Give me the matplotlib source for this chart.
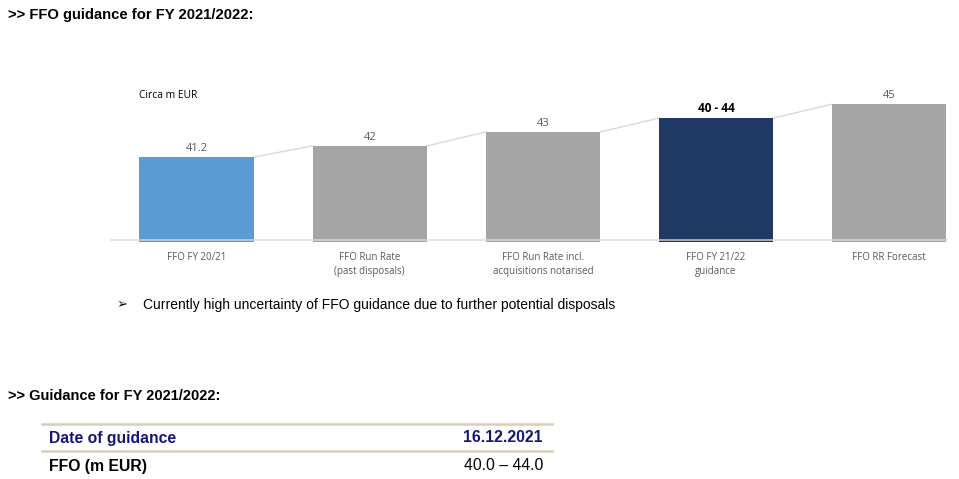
import matplotlib.pyplot as plt
from matplotlib.lines import Line2D

# Daten aus der Grafik (Circa m EUR)
kategorien = ['FFO FY 20/21', 'FFO Run Rate\n(past disposals)',
              'FFO Run Rate incl.\nacquisitions notarised',
              'FFO FY 21/22\nguidance', 'FFO RR Forecast']
werte = [41.2, 42, 43, 44, 45]
beschriftung = ['41.2', '42', '43', '40 - 44', '45']

tabelle_zeilen = ['Date of guidance', 'FFO (m EUR)']
tabelle_werte = ['16.12.2021', '40.0 \u2013 44.0']

farben = ['#5b9bd5', '#a5a5a5', '#a5a5a5', '#203864', '#a5a5a5']

W, H = 959, 479
fig = plt.figure(figsize=(W / 100, H / 100), dpi=100)


def px(x, y):
    # Pixel (von oben links) -> Figure-Koordinaten
    return x / W, 1 - y / H


# Achse fuer das Balkendiagramm
ax_l, ax_r, ax_top, ax_bot = 110, 948, 61, 242
ax = fig.add_axes([ax_l / W, 1 - ax_bot / H, (ax_r - ax_l) / W, (ax_bot - ax_top) / H])
breite = 0.66
x = list(range(len(werte)))
ax.bar(x, werte, width=breite, color=farben, zorder=2)
ax.set_xlim(-0.5, 4.34)
ax.set_ylim(35.1, 48.1)
ax.axhline(35.25, color='#d9d9d9', lw=1.2, alpha=0.85, zorder=3)

# Verbindungslinien zwischen den Balken
for i in range(len(werte) - 1):
    ax.plot([x[i] + breite / 2, x[i + 1] - breite / 2], [werte[i], werte[i + 1]],
            color='#d9d9d9', lw=1, zorder=1)

for i, (v, t) in enumerate(zip(werte, beschriftung)):
    if i == 3:
        ax.text(i, v + 0.22, t, ha='center', va='bottom', fontsize=8.5,
                fontweight='bold', color='black', family='Open Sans')
    else:
        ax.text(i, v + 0.22, t, ha='center', va='bottom', fontsize=8,
                color='#595959', family='Open Sans')

ax.set_xticks(x)
ax.set_xticklabels(kategorien, fontsize=7, color='#595959', family='Open Sans',
                   linespacing=1.4)
ax.tick_params(axis='x', length=0, pad=7)
ax.set_yticks([])
for s in ax.spines.values():
    s.set_visible(False)

fig.text(*px(139, 95), 'Circa m EUR', fontsize=7.4, family='Open Sans',
         va='center', ha='left', color='black')

# Ueberschriften und Text
fig.text(*px(8, 15), '>> FFO guidance for FY 2021/2022:', fontsize=10.6,
         fontweight='bold', family='Liberation Sans', va='center')
fig.text(*px(117, 305), '\u27a2', fontsize=9.5, fontweight='bold',
         family=['DejaVu Sans'], va='center')
fig.text(*px(143, 305), 'Currently high uncertainty of FFO guidance due to further potential disposals',
         fontsize=10, family='Liberation Sans', va='center')
fig.text(*px(8, 396), '>> Guidance for FY 2021/2022:', fontsize=10.5,
         fontweight='bold', family='Liberation Sans', va='center')

# Tabelle
for y in [423.5, 450.5]:
    fig.add_artist(Line2D([42 / W, 552 / W], [1 - y / H, 1 - y / H],
                          color='#d8ceb7', lw=1.8, transform=fig.transFigure))
fig.text(*px(49, 438), tabelle_zeilen[0], fontsize=11.3, fontweight='bold',
         color='#14147a', family='Liberation Sans', va='center')
fig.text(*px(543, 438), tabelle_werte[0], fontsize=11.3, fontweight='bold',
         color='#14147a', family='Liberation Sans', va='center', ha='right')
fig.text(*px(49, 466), tabelle_zeilen[1], fontsize=11.3, fontweight='bold',
         color='black', family='Liberation Sans', va='center')
fig.text(*px(543, 466), tabelle_werte[1], fontsize=11.3,
         color='black', family='Liberation Sans', va='center', ha='right')

fig.savefig('out.png', dpi=100)
